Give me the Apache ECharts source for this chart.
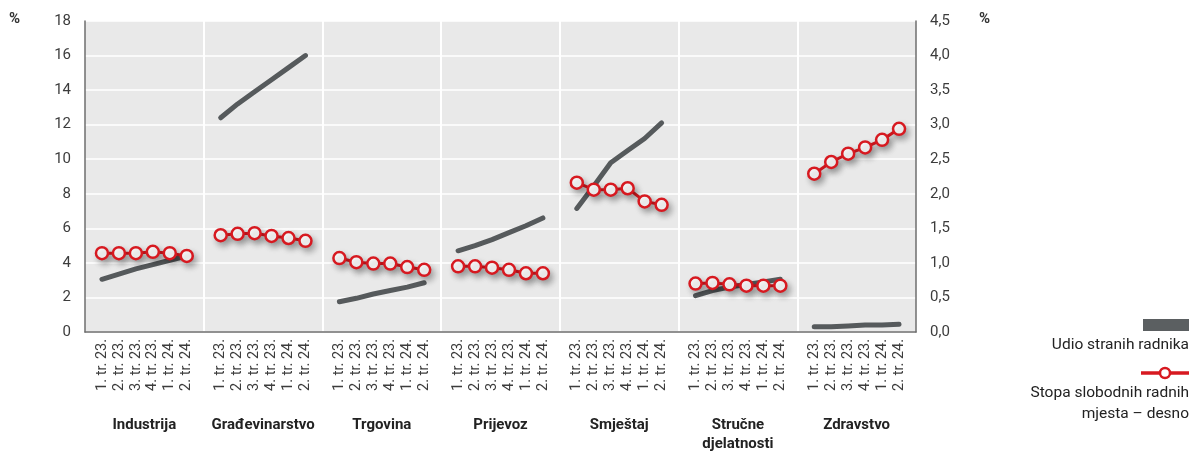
<!DOCTYPE html>
<html>
<head>
<meta charset="utf-8">
<script src="https://cdn.jsdelivr.net/npm/echarts@6/dist/echarts.min.js"></script>
<style>
html,body{margin:0;padding:0;background:#fff;}
#chart{width:1197px;height:452px;}
</style>
</head>
<body>
<div id="chart"></div>
<script>
// ---- data ----
const groups = ['Industrija', 'Građevinarstvo', 'Trgovina', 'Prijevoz', 'Smještaj', 'Stručne\ndjelatnosti', 'Zdravstvo'];
const quarters = ['1. tr. 23.', '2. tr. 23.', '3. tr. 23.', '4. tr. 23.', '1. tr. 24.', '2. tr. 24.'];
// Udio stranih radnika (left axis, %)
const udioIndustrija   = [3.05, 3.35, 3.65, 3.9, 4.15, 4.4];
const udioGradjevina   = [12.4, 13.2, 13.9, 14.6, 15.3, 16.0];
const udioTrgovina     = [1.75, 1.95, 2.2, 2.4, 2.6, 2.85];
const udioPrijevoz     = [4.7, 5.0, 5.35, 5.75, 6.15, 6.6];
const udioSmjestaj     = [7.15, 8.45, 9.8, 10.5, 11.2, 12.1];
const udioStrucne      = [2.1, 2.4, 2.6, 2.75, 2.9, 3.05];
const udioZdravstvo    = [0.3, 0.3, 0.35, 0.4, 0.4, 0.45];
// Stopa slobodnih radnih mjesta (right axis, %)
const stopaIndustrija  = [1.14, 1.14, 1.14, 1.16, 1.14, 1.10];
const stopaGradjevina  = [1.40, 1.42, 1.43, 1.39, 1.36, 1.32];
const stopaTrgovina    = [1.07, 1.01, 0.99, 0.99, 0.94, 0.90];
const stopaPrijevoz    = [0.95, 0.95, 0.93, 0.90, 0.85, 0.85];
const stopaSmjestaj    = [2.16, 2.06, 2.06, 2.08, 1.89, 1.84];
const stopaStrucne     = [0.70, 0.71, 0.69, 0.67, 0.67, 0.67];
const stopaZdravstvo   = [2.29, 2.46, 2.58, 2.67, 2.78, 2.94];
const leftTicks = {min: 0, max: 18, interval: 2};
const rightTicks = {min: 0, max: 4.5, interval: 0.5};
const legendNames = ['Udio stranih radnika', 'Stopa slobodnih radnih\nmjesta – desno'];

const udio = [udioIndustrija, udioGradjevina, udioTrgovina, udioPrijevoz, udioSmjestaj, udioStrucne, udioZdravstvo];
const stopa = [stopaIndustrija, stopaGradjevina, stopaTrgovina, stopaPrijevoz, stopaSmjestaj, stopaStrucne, stopaZdravstvo];

// flat category axis: one empty slot at every group boundary
const cats = [], udioFlat = [], stopaFlat = [];
groups.forEach((g, gi) => {
  cats.push(''); udioFlat.push(null); stopaFlat.push(null);
  quarters.forEach((q, qi) => {
    cats.push(q); udioFlat.push(udio[gi][qi]); stopaFlat.push(stopa[gi][qi]);
  });
});
cats.push(''); udioFlat.push(null); stopaFlat.push(null);

const FONT = 'Roboto';
const chart = echarts.init(document.getElementById('chart'), null, {renderer: 'canvas'});
chart.setOption({
  animation: false,
  textStyle: {fontFamily: FONT},
  grid: {left: 85, right: 281, top: 21, bottom: 120, show: true, backgroundColor: '#e9e9e9', borderWidth: 0,
         containLabel: false, outerBoundsMode: 'none'},
  xAxis: [{
    type: 'category', data: cats, boundaryGap: false, position: 'bottom',
    axisLine: {show: true, lineStyle: {color: '#6e6e6e', width: 1.5}},
    axisTick: {show: false},
    axisLabel: {interval: 0, rotate: 90, color: '#3c3c3c', fontSize: 14.5, margin: 7, fontFamily: FONT},
    splitLine: {show: true, interval: (i) => i % 7 === 0 && i > 0 && i < cats.length - 1, lineStyle: {color: '#ffffff', width: 2}}
  }, {
    type: 'category', data: groups, boundaryGap: true, position: 'bottom', offset: 76,
    axisLine: {show: false}, axisTick: {show: false},
    axisLabel: {interval: 0, color: '#222', fontSize: 15, fontWeight: 'bold', lineHeight: 19, fontFamily: FONT}
  }],
  yAxis: [{
    type: 'value', min: leftTicks.min, max: leftTicks.max, interval: leftTicks.interval,
    axisLine: {show: true, lineStyle: {color: '#6e6e6e', width: 1.5}},
    axisTick: {show: false},
    axisLabel: {color: '#3c3c3c', fontSize: 15, margin: 14, fontFamily: FONT},
    splitLine: {show: true, lineStyle: {color: '#ffffff', width: 1.5}}
  }, {
    type: 'value', min: rightTicks.min, max: rightTicks.max, interval: rightTicks.interval,
    axisLine: {show: true, lineStyle: {color: '#6e6e6e', width: 1.5}},
    axisTick: {show: false},
    axisLabel: {color: '#3c3c3c', fontSize: 15, margin: 14, fontFamily: FONT,
      formatter: (v) => v.toFixed(1).replace('.', ',')},
    splitLine: {show: false}
  }],
  series: [{
    name: legendNames[0], type: 'line', xAxisIndex: 0, yAxisIndex: 0, data: udioFlat,
    connectNulls: false, showSymbol: false, symbol: 'none',
    lineStyle: {color: '#565a5c', width: 5, cap: 'round', join: 'round'},
    z: 2
  }, {
    name: legendNames[1], type: 'line', xAxisIndex: 0, yAxisIndex: 1, data: stopaFlat,
    connectNulls: false, symbol: 'circle', symbolSize: 12, showAllSymbol: true,
    lineStyle: {color: '#d71920', width: 3, shadowColor: 'rgba(0,0,0,0.28)', shadowBlur: 6, shadowOffsetX: 3, shadowOffsetY: 4},
    itemStyle: {color: '#ffffff', borderColor: '#d71920', borderWidth: 2.5, shadowColor: 'rgba(0,0,0,0.28)', shadowBlur: 6, shadowOffsetX: 3, shadowOffsetY: 4},
    z: 3
  }],
  graphic: [
    {type: 'text', left: 9, top: 12, style: {text: '%', fontSize: 15, fontWeight: 'bold', fill: '#333', fontFamily: FONT}},
    {type: 'text', left: 979, top: 12, style: {text: '%', fontSize: 15, fontWeight: 'bold', fill: '#333', fontFamily: FONT}},
    {type: 'rect', shape: {x: 1143, y: 319, width: 46, height: 12}, style: {fill: '#5b5f61'}},
    {type: 'text', x: 1189, y: 337, style: {text: legendNames[0], fontSize: 15.5, fill: '#222', align: 'right', verticalAlign: 'top', fontFamily: FONT}},
    {type: 'line', shape: {x1: 1141, y1: 373, x2: 1189, y2: 373}, style: {stroke: '#d71920', lineWidth: 3.5}},
    {type: 'circle', shape: {cx: 1165, cy: 373, r: 5}, style: {fill: '#fff', stroke: '#d71920', lineWidth: 2.5}},
    {type: 'text', x: 1189, y: 383, style: {text: legendNames[1], fontSize: 15.5, lineHeight: 21, fill: '#222', align: 'right', verticalAlign: 'top', fontFamily: FONT}}
  ]
});
</script>
</body>
</html>
